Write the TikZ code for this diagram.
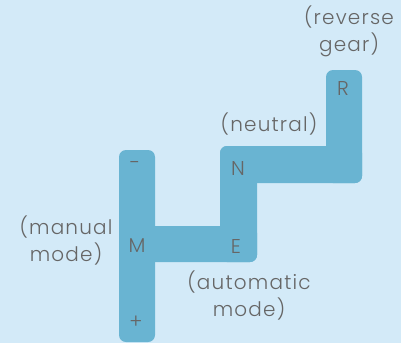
\documentclass[tikz,border=0pt]{standalone}
\usepackage{fontspec}
\setmainfont{Poppins}[UprightFont=* Light, LetterSpace=6]
\definecolor{bgc}{HTML}{D3EAF8}
\definecolor{barc}{HTML}{69B4D2}
\definecolor{txtc}{HTML}{666666}
\begin{document}
\begin{tikzpicture}[x=1pt,y=-1pt,
  bar/.style={fill=barc, rounded corners=7pt},
  gear/.style={text=txtc, font=\fontsize{20}{22}\selectfont, inner sep=0pt},
  lbl/.style={text=txtc, font=\fontsize{20}{27}\selectfont, align=center, inner sep=0pt}]
\fill[bgc] (0,0) rectangle (401,343);
\useasboundingbox (0,0) rectangle (401,343);
% gate shape
\fill[bar] (119,150) rectangle (155,342);
\fill[bar] (137,226) rectangle (257,262);
\fill[bar] (220,146) rectangle (257,262);
\fill[bar] (220,146) rectangle (362,183);
\fill[bar] (326,70) rectangle (362,183);
% gear letters
\node[gear] (minus) at (135,165) {-};
\node[gear] (M) at (137,246) {M};
\node[gear] (plus) at (136,322) {+};
\node[gear] (N) at (238,169) {N};
\node[gear] (E) at (236,246) {E};
\node[gear] (R) at (343,89) {R};
% labels
\node[lbl] (manual) at (66,241) {(manual\\mode)};
\node[lbl] (neutral) at (269,124) {(neutral)};
\node[lbl] (reverse) at (349,31) {(reverse\\gear)};
\node[lbl] (auto) at (249,296) {(automatic\\mode)};
\end{tikzpicture}
\end{document}
